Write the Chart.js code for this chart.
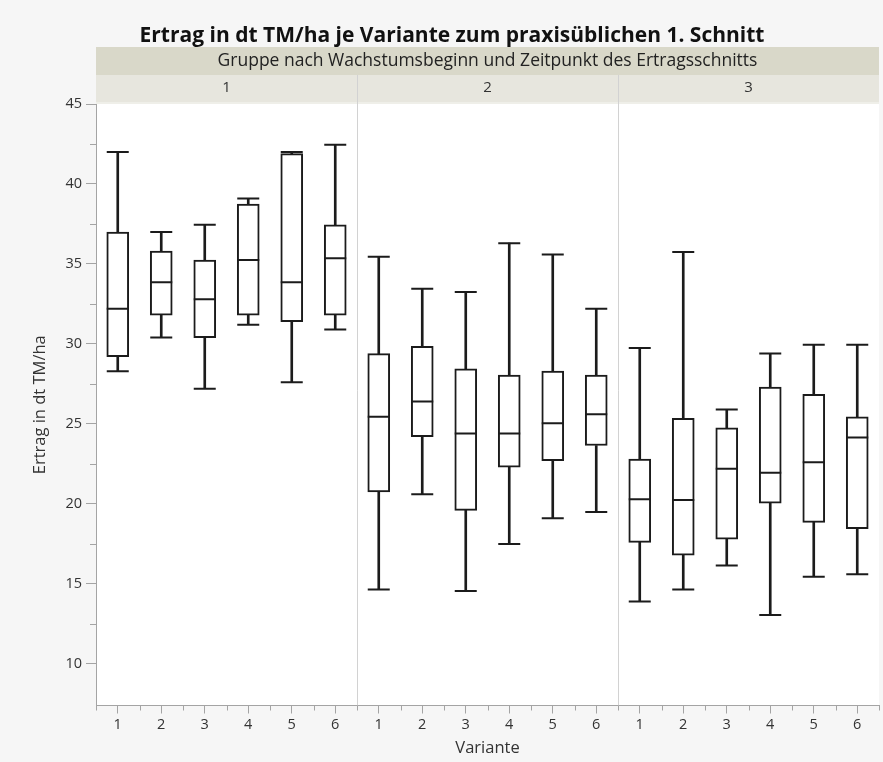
<!DOCTYPE html>
<html>
<head>
<meta charset="utf-8">
<script src="https://cdn.jsdelivr.net/npm/chart.js@4/dist/chart.umd.min.js"></script>
<style>
  html, body { margin: 0; padding: 0; background: #f6f6f6; overflow: hidden; width: 883px; height: 762px; }
  canvas { display: block; }
</style>
</head>
<body>
<canvas id="chart" width="892" height="762"></canvas>
<script>
// Gruppen (Wachstumsbeginn / Zeitpunkt des Ertragsschnitts) und Varianten
const groups = ['1', '2', '3'];
const variants = ['1', '2', '3', '4', '5', '6'];

// Kennwerte der Boxplots, je Gruppe die Varianten 1-6 (dt TM/ha)
const whiskerLow = [
  28.3, 30.4, 27.2, 31.2, 27.6, 30.9,
  14.65, 20.6, 14.55, 17.5, 19.1, 19.5,
  13.9, 14.65, 16.15, 13.05, 15.45, 15.6
];
const quartile1 = [
  29.2, 31.8, 30.4, 31.8, 31.4, 31.8,
  20.75, 24.2, 19.6, 22.3, 22.7, 23.65,
  17.6, 16.8, 17.8, 20.05, 18.85, 18.45
];
const medianVals = [
  32.2, 33.85, 32.8, 35.25, 33.85, 35.35,
  25.45, 26.4, 24.4, 24.4, 25.05, 25.6,
  20.3, 20.25, 22.2, 21.95, 22.6, 24.15
];
const quartile3 = [
  37.0, 35.8, 35.25, 38.75, 41.9, 37.45,
  29.4, 29.85, 28.45, 28.05, 28.3, 28.05,
  22.8, 25.35, 24.75, 27.3, 26.85, 25.45
];
const whiskerHigh = [
  42.0, 37.0, 37.45, 39.1, 42.0, 42.45,
  35.45, 33.45, 33.25, 36.3, 35.6, 32.2,
  29.75, 35.75, 25.9, 29.4, 29.95, 29.95
];

// Achsenbeschriftung
const yTicks = [10, 15, 20, 25, 30, 35, 40, 45];
const yMinorTicks = [12.5, 17.5, 22.5, 27.5, 32.5, 37.5, 42.5];

const chartTitle = 'Ertrag in dt TM/ha je Variante zum praxisüblichen 1. Schnitt';
const groupTitle = 'Gruppe nach Wachstumsbeginn und Zeitpunkt des Ertragsschnitts';

const labels = groups.flatMap(() => variants);

const FONT = "'Segoe UI', 'Open Sans', sans-serif";
const INK = '#1b1b1b';
const AXIS = '#a4a4a4';
const TEXT = '#333333';

Chart.defaults.font.family = FONT;

// Streifen, Panel-Trennlinien, Nebenstriche und Titel
const panelDecor = {
  id: 'panelDecor',
  beforeDraw(chart) {
    const { ctx, chartArea: a, width, height } = chart;
    ctx.save();
    ctx.fillStyle = '#f6f6f6';
    ctx.fillRect(0, 0, width, height);
    ctx.fillStyle = '#ffffff';
    ctx.fillRect(a.left, a.top, a.right - a.left, a.bottom - a.top);
    // Gruppenstreifen
    ctx.fillStyle = '#d9d8c9';
    ctx.fillRect(a.left, 47, a.right - a.left, 28);
    ctx.fillStyle = '#e7e6de';
    ctx.fillRect(a.left, 75, a.right - a.left, 27);
    ctx.fillStyle = '#efefe9';
    ctx.fillRect(a.left, 102, a.right - a.left, a.top - 102);
    ctx.restore();
  },
  beforeDatasetsDraw(chart) {
    const { ctx, chartArea: a, scales: { x } } = chart;
    ctx.save();
    ctx.strokeStyle = '#d2d2d2';
    ctx.lineWidth = 1;
    for (let g = 1; g < groups.length; g++) {
      const i = g * variants.length;
      const px = Math.round((x.getPixelForValue(i - 1) + x.getPixelForValue(i)) / 2) + 0.5;
      ctx.beginPath();
      ctx.moveTo(px, 75);
      ctx.lineTo(px, a.bottom);
      ctx.stroke();
    }
    ctx.restore();
  },
  afterDraw(chart) {
    const { ctx, chartArea: a, scales: { x, y } } = chart;
    ctx.save();
    // Nebenstriche
    ctx.strokeStyle = AXIS;
    ctx.lineWidth = 1;
    yMinorTicks.forEach(v => {
      const py = Math.round(y.getPixelForValue(v)) + 0.5;
      ctx.beginPath();
      ctx.moveTo(a.left - 6, py);
      ctx.lineTo(a.left, py);
      ctx.stroke();
    });
    const step = x.getPixelForValue(1) - x.getPixelForValue(0);
    for (let i = 0; i <= labels.length; i++) {
      const px = Math.round(x.getPixelForValue(0) + (i - 0.5) * step) + 0.5;
      ctx.beginPath();
      ctx.moveTo(px, a.bottom);
      ctx.lineTo(px, a.bottom + 5);
      ctx.stroke();
    }
    // Titel
    ctx.fillStyle = '#111';
    ctx.textAlign = 'center';
    ctx.textBaseline = 'middle';
    ctx.font = `bold 21px ${FONT}`;
    ctx.fillText(chartTitle, 452, 36);
    ctx.fillStyle = '#222';
    ctx.font = `17.5px ${FONT}`;
    ctx.fillText(groupTitle, (a.left + a.right) / 2, 61);
    ctx.fillStyle = TEXT;
    ctx.font = `15px ${FONT}`;
    groups.forEach((g, k) => {
      const i0 = k * variants.length;
      const cx = (x.getPixelForValue(i0) + x.getPixelForValue(i0 + variants.length - 1)) / 2;
      ctx.fillText(g, cx, 88);
    });
    ctx.restore();
  }
};

const pointLine = (data) => ({
  type: 'line',
  data,
  showLine: false,
  pointStyle: 'line',
  pointRadius: 11,
  pointHoverRadius: 11,
  pointBorderWidth: 2,
  pointBorderColor: INK,
  pointBackgroundColor: INK,
  order: 1
});

new Chart(document.getElementById('chart'), {
  type: 'bar',
  data: {
    labels,
    datasets: [
      {
        data: whiskerLow.map((v, i) => [v, quartile1[i]]),
        backgroundColor: INK, barThickness: 2, grouped: false, borderWidth: 0, order: 3
      },
      {
        data: quartile3.map((v, i) => [v, whiskerHigh[i]]),
        backgroundColor: INK, barThickness: 2, grouped: false, borderWidth: 0, order: 3
      },
      {
        data: quartile1.map((v, i) => [v, quartile3[i]]),
        backgroundColor: '#ffffff', borderColor: INK, borderWidth: 2, borderSkipped: false,
        barThickness: 22, grouped: false, order: 2
      },
      pointLine(whiskerLow),
      pointLine(whiskerHigh),
      pointLine(medianVals)
    ]
  },
  options: {
    responsive: false,
    devicePixelRatio: 1,
    animation: false,
    events: [],
    layout: { padding: { top: 104, right: 4, left: 0, bottom: 0 } },
    plugins: { legend: { display: false }, tooltip: { enabled: false } },
    scales: {
      x: {
        offset: true,
        grid: { drawOnChartArea: false, tickLength: 8, color: AXIS, offset: false },
        border: { color: AXIS },
        ticks: { color: TEXT, font: { size: 14.5 }, padding: 3, maxRotation: 0, autoSkip: false },
        title: { display: true, text: 'Variante', color: TEXT, font: { size: 16.5 }, padding: { top: 0, bottom: 4 } },
        afterFit(s) { s.height = 56.5; }
      },
      y: {
        min: 7.4,
        max: 45,
        afterBuildTicks(s) { s.ticks = yTicks.map(v => ({ value: v })); },
        grid: { drawOnChartArea: false, tickLength: 10, color: AXIS },
        border: { color: AXIS },
        ticks: { color: TEXT, font: { size: 14.5 }, padding: 4 },
        title: { display: true, text: 'Ertrag in dt TM/ha', color: TEXT, font: { size: 16.5 }, padding: { top: 30 } },
        afterFit(s) { s.width = 96; }
      }
    }
  },
  plugins: [panelDecor]
});
</script>
</body>
</html>
